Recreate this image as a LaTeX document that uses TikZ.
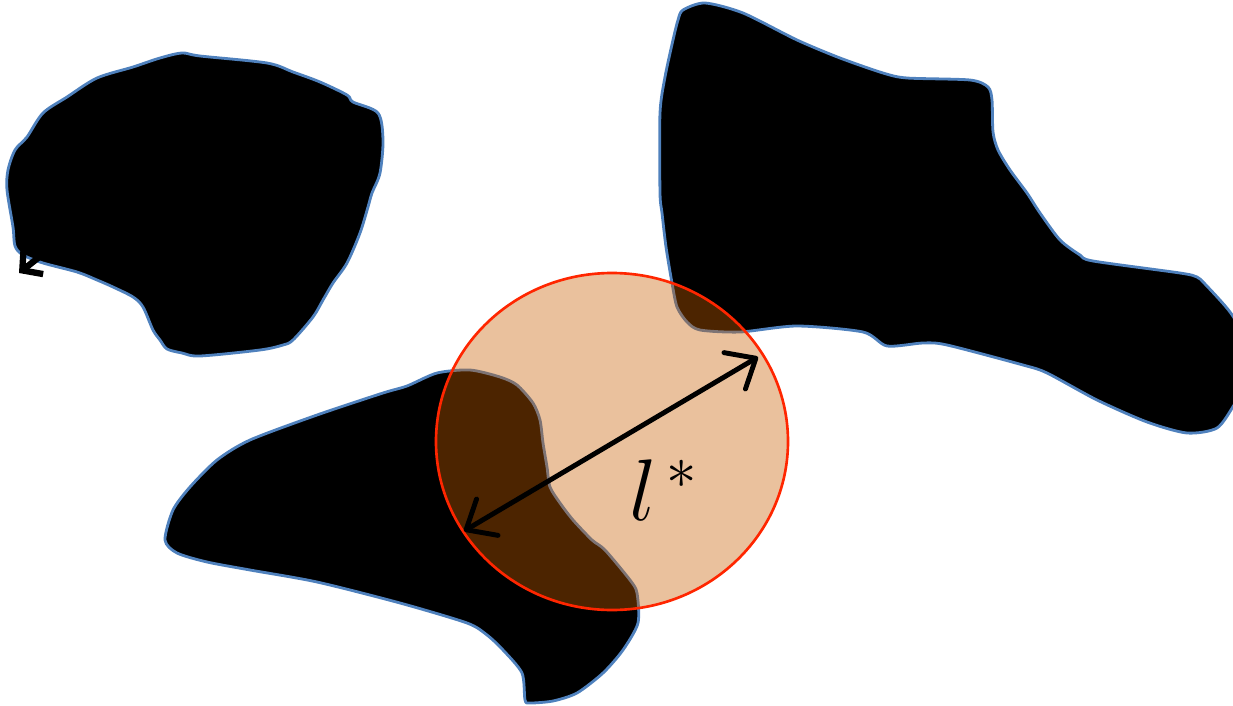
\documentclass[tikz,border=0pt]{standalone}
\usetikzlibrary{arrows.meta}
\definecolor{blobline}{RGB}{79,129,189}
\definecolor{discfill}{RGB}{200,94,0}
\definecolor{discline}{RGB}{255,38,0}
\tikzset{
  blob/.style={fill=black, draw=blobline, line width=0.8pt},
  disc/.style={fill=discfill, fill opacity=0.385, draw=discline, draw opacity=1, line width=0.75pt},
  dimarrow/.style={line width=1.4pt, {Straight Barb[length=7pt,width=12pt,line width=1.4pt,round]}-{Straight Barb[length=7pt,width=12pt,line width=1.4pt,round]}},
  smallarrow/.style={line width=1.8pt, -{Straight Barb[length=4pt,width=9pt,line width=1.8pt]}}
}
\begin{document}
\begin{tikzpicture}[x=0.01cm,y=-0.01cm]
\useasboundingbox (0,0) rectangle (1233,706);
\clip (0,0) rectangle (1233,706);
% top-left blob
\draw[blob] plot[smooth cycle, tension=0.5] coordinates {
(182,53) (200,56) (267,63) (293,72) (320,82) (347,95) (353,102) (378,113)
(383,140) (380,173) (372,193) (368,207) (360,233) (347,263) (333,283) (323,300)
(313,317) (293,340) (283,345) (260,350) (200,356) (182,353) (167,349) (160,340)
(153,330) (143,307) (133,297) (113,287) (97,280) (77,272) (43,263) (23,255)
(15,246) (13,227) (7,190) (8,170) (15,150) (27,137) (43,113) (67,97) (97,78)
(133,67) (160,58)};
\coordinate (sa) at (38,258);
\coordinate (sb) at (19,273);
\draw[smallarrow] (sa) -- (sb);
% right blob
\draw[blob] plot[smooth cycle, tension=0.45] coordinates {
(683,10) (705,3) (743,13) (797,40) (840,58) (883,73) (907,78) (970,80)
(988,87) (992,100) (993,132) (998,150) (1010,170) (1027,193) (1040,213)
(1060,240) (1080,255) (1093,261) (1180,273) (1197,277) (1205,284) (1230,312)
(1245,340) (1245,385) (1234,405) (1217,428) (1187,433) (1147,422) (1097,400)
(1047,373) (1023,365) (947,345) (923,343) (887,346) (863,332) (797,326)
(740,332) (700,330) (687,322) (677,307) (672,283) (666,247) (662,213)
(660,193) (660,113) (665,77) (673,40) (678,20)};
% bottom blob
\draw[blob] plot[smooth cycle, tension=0.45] coordinates {
(165,540) (177,553) (207,562) (250,570) (317,582) (400,603) (467,623)
(487,635) (503,650) (522,673) (525,700) (530,703) (553,701) (577,693)
(603,673) (623,650) (638,623) (637,593) (630,580) (605,550) (592,540)
(573,520) (560,503) (550,487) (547,467) (543,443) (540,420) (533,403)
(517,385) (500,377) (470,370) (437,373) (407,386) (383,393) (317,415)
(250,440) (217,460) (190,487) (173,510)};
% disc
\draw[disc] (612,441.5) ellipse[x radius=176, y radius=168.5];
% diameter arrow
\coordinate (da) at (464,531);
\coordinate (db) at (758,357);
\draw[dimarrow] (da) -- (db);
\node[font=\fontsize{27}{32}\selectfont, inner sep=0pt] (lab) at (664,490) {$l^{\,*}$};
\end{tikzpicture}
\end{document}
